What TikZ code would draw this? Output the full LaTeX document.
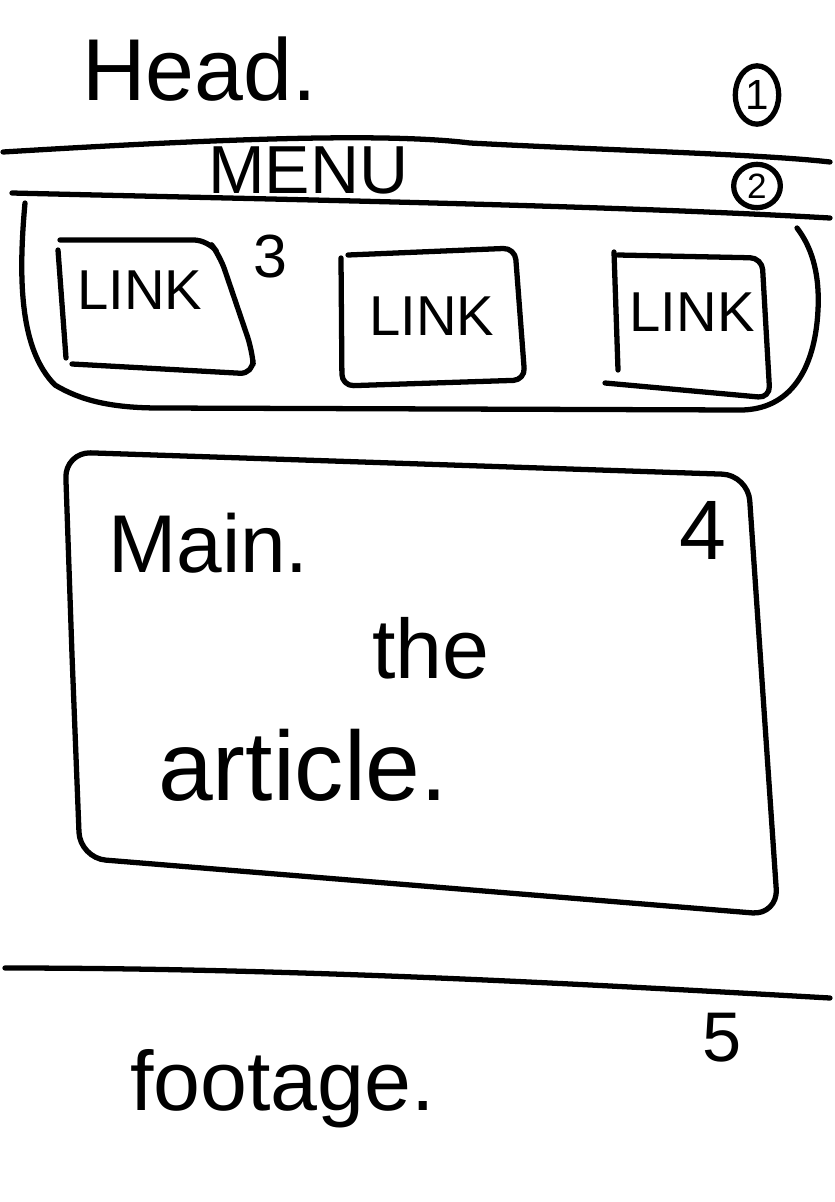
\documentclass[tikz,border=0pt]{standalone}
\usepackage{fontspec}
\setmainfont{Liberation Sans}
\usetikzlibrary{positioning,shapes.geometric}
\tikzset{
  pen/.style={line width=4.5pt,line cap=round,line join=round,draw=black},
  hand/.style={font=\fontsize{#1}{#1}\selectfont,inner sep=0pt,anchor=base west},
  linktext/.style={font=\fontsize{48}{48}\selectfont,inner sep=0pt},
  numtext/.style={font=\fontsize{#1}{#1}\selectfont,inner sep=0pt},
  numring/.style={ellipse,pen,inner sep=0pt,font=\fontsize{36}{36}\selectfont}
}

\begin{document}
\begin{tikzpicture}[x=0.03cm,y=-0.03cm]
  \useasboundingbox (0,0) rectangle (834,1202);

  % header
  \node[hand=75] (head) at (82,100) {Head.};
  \node[numring,minimum width=1.3cm,minimum height=1.75cm] (num1) at (757,95) {1};
  \draw[pen] (3,152) .. controls (200,140) and (380,132) .. (470,143)
             .. controls (600,150) and (760,154) .. (830,162);

  % menu bar
  \node[hand=58] (menu) at (208,193) {MENU};
  \node[numring,minimum width=1.4cm,minimum height=1.3cm,font=\fontsize{30}{30}\selectfont] (num2) at (757,186) {2};
  \draw[pen] (12,193) .. controls (300,200) and (600,205) .. (830,218);

  % navigation with links
  \draw[pen] (25,203) .. controls (18,280) and (20,350) .. (55,385)
             .. controls (80,400) and (110,408) .. (160,408) -- (740,410)
             .. controls (790,410) and (815,370) .. (818,310)
             .. controls (820,270) and (810,245) .. (797,228);
  \draw[pen] (58,250) -- (66,358);
  \draw[pen,rounded corners=12pt] (60,240) -- (208,240) -- (220,256) -- (252,350) -- (254,374) -- (72,364);
  \draw[pen,rounded corners=10pt] (348,255) -- (515,248) -- (525,380) -- (342,386) -- (341,258);
  \draw[pen] (614,252) -- (618,370);
  \draw[pen,rounded corners=10pt] (618,255) -- (762,258) -- (770,398) -- (605,383);
  \node[linktext] (link1) at (140,290) {LINK};
  \node[linktext] (link2) at (432,316) {LINK};
  \node[linktext] (link3) at (692,312) {LINK};
  \node[numtext=52] (num3) at (270,257) {3};

  % main article
  \draw[pen] (72,655) [rounded corners=22pt] -- (80,858) -- (778,915) -- (748,475) -- (65,452)
             [sharp corners] -- (72,655);
  \node[hand=70] (main) at (108,572) {Main.};
  \node[numtext=72] (num4) at (703,530) {4};
  \node[hand=72] (the) at (372,678) {the};
  \node[hand=84] (article) at (158,800) {article.};

  % footer
  \draw[pen] (5,968) .. controls (300,968) and (600,985) .. (830,998);
  \node[numtext=60] (num5) at (722,1038) {5};
  \node[hand=72] (foot) at (130,1110) {footage.};
\end{tikzpicture}
\end{document}
